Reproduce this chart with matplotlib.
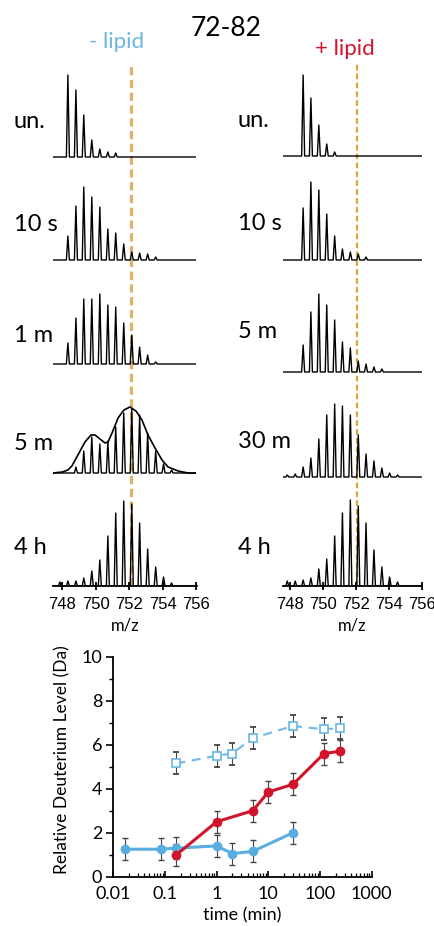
import matplotlib
matplotlib.use('Agg')
import matplotlib.pyplot as plt
from matplotlib import font_manager
from matplotlib.ticker import FixedLocator, NullFormatter
import numpy as np

# ---- data: isotope peaks (m/z grid shared by all spectra) ----
peak_mz = [747.86, 748.34, 748.82, 749.29, 749.77, 750.25, 750.73, 751.20,
           751.68, 752.16, 752.63, 753.11, 753.59, 754.06, 754.54, 755.02]

left_labels = ['un.', '10 s', '1 m', '5 m', '4 h']
left_spectra = [
    [0, 82, 67, 42, 17, 8, 5, 4, 0, 0, 0, 0, 0, 0, 0, 0],
    [0, 24, 54, 73, 63, 53, 31, 27, 16, 8, 7, 6, 3, 0, 0, 0],
    [0, 21, 46, 65, 65, 70, 59, 57, 41, 29, 17, 9, 2, 0, 0, 0],
    [0, 0, 6, 22, 36, 29, 32, 46, 60, 64, 58, 40, 22, 9, 3, 0],
    [4, 5, 5, 8, 15, 26, 50, 73, 85, 82, 63, 37, 19, 9, 3, 0],
]
# bimodal envelope drawn over the 5 m spectrum (-lipid)
env_mz = [747.45, 748.0, 748.34, 748.58, 748.94, 749.36, 749.72, 749.96, 750.26,
          750.56, 750.74, 750.98, 751.34, 751.69, 752.05, 752.41, 752.77, 753.13,
          753.55, 753.97, 754.33, 754.93, 755.53, 756.0]
env_int = [0, 1, 3, 7, 18, 31, 38, 38, 34, 30, 31, 40, 55, 63, 66, 62, 53, 38,
           25, 13, 6, 2, 0, 0]

right_labels = ['un.', '10 s', '5 m', '30 m', '4 h']
right_spectra = [
    [0, 0, 81, 58, 31, 12, 4, 0, 0, 0, 0, 0, 0, 0, 0, 0],
    [0, 0, 52, 78, 70, 46, 24, 11, 8, 6, 3, 0, 0, 0, 0, 0],
    [0, 0, 27, 60, 78, 67, 52, 30, 24, 11, 8, 5, 3, 0, 0, 0],
    [2, 3, 10, 19, 38, 62, 73, 71, 62, 42, 23, 16, 9, 4, 2, 0],
    [5, 5, 6, 8, 17, 27, 50, 73, 86, 80, 63, 36, 19, 9, 4, 0],
]
ref_mz = 752.1

# ---- data: deuterium uptake ----
time_blue = [0.0167, 0.0833, 0.167, 1, 2, 5, 30]
d_blue = [1.25, 1.25, 1.3, 1.4, 1.05, 1.15, 2.0]
time_open = [0.167, 1, 2, 5, 30, 120, 240]
d_open = [5.15, 5.5, 5.6, 6.3, 6.85, 6.7, 6.75]
time_red = [0.167, 1, 5, 10, 30, 120, 240]
d_red = [1.0, 2.5, 3.0, 3.85, 4.2, 5.6, 5.7]
err = 0.5

BLUE = '#5AAEDF'
RED = '#D0142B'

names = {f.name for f in font_manager.fontManager.ttflist}
narrow = 'Liberation Sans Narrow' if 'Liberation Sans Narrow' in names else 'Liberation Sans'
plt.rcParams['font.family'] = ['Lato', 'DejaVu Sans']

W, H = 435, 926
fig = plt.figure(figsize=(W / 100, H / 100), dpi=100)


def fx(px):
    return px / W


def fy(py):
    return 1 - py / H


def stick_trace(mz, inten, lo, hi, w=0.09):
    xs, ys = [lo], [0]
    for m, h in zip(mz, inten):
        if h <= 0:
            continue
        xs += [m - w, m, m + w]
        ys += [0, h, 0]
    xs.append(hi)
    ys.append(0)
    return np.array(xs), np.array(ys)


def spectra_panel(x0, x1, xlim, spectra, offsets, dash_lw, dash_col):
    ax = fig.add_axes([fx(x0), fy(586), fx(x1) - fx(x0), (586 - 62) / H])
    ax.set_xlim(*xlim)
    ax.set_ylim(0, 524)
    for inten, off in zip(spectra, offsets):
        xs, ys = stick_trace(peak_mz, inten, xlim[0], xlim[1])
        ax.plot(xs, ys + off, color='black', lw=1.0)
    ax.axvline(ref_mz, color=dash_col, lw=dash_lw, ls=(0, (2.6, 1.4)), zorder=0)
    for s in ['left', 'right', 'top']:
        ax.spines[s].set_visible(False)
    ax.spines['bottom'].set_linewidth(1.3)
    ax.set_yticks([])
    ax.set_xticks([748, 750, 752, 754, 756])
    ax.tick_params(axis='x', direction='inout', length=6, width=1.3, pad=5)
    for lab in ax.get_xticklabels():
        lab.set_fontfamily(narrow)
        lab.set_fontsize(12)
    ax.set_xlabel('m/z', fontsize=12, labelpad=4)
    return ax


axl = spectra_panel(53, 196.5, (747.45, 756.03), left_spectra,
                    [429, 326, 222, 113, 0], 2.3, '#E2B066')
axl.plot(env_mz, np.array(env_int) + 113, color='black', lw=1.2)

axr = spectra_panel(283, 422, (747.6, 756.02), right_spectra,
                    [430, 326, 214, 109, 0], 1.6, '#D8AA3C')

for lab, py in zip(left_labels, [122, 225, 335, 443, 548]):
    fig.text(fx(14), fy(py), lab, fontsize=17, ha='left', va='center')
for lab, py in zip(right_labels, [121, 223, 332, 441, 548]):
    fig.text(fx(238), fy(py), lab, fontsize=17, ha='left', va='center')

fig.text(fx(226), fy(28), '72-82', fontsize=19, ha='center', va='center')
fig.text(fx(117), fy(42), '- lipid', fontsize=16, ha='center', va='center', color='#6DB6E2')
fig.text(fx(345), fy(49), '+ lipid', fontsize=16, ha='center', va='center', color=RED)

# ---- uptake plot ----
ax = fig.add_axes([fx(113.3), fy(876.7), fx(371.7) - fx(113.3), (876.7 - 656.7) / H])
ax.errorbar(time_open, d_open, yerr=err, color='#72BBE6', ls=(0, (4, 3)), lw=1.6,
            marker='s', ms=6, mfc='white', mec='#72BBE6', mew=1.3,
            ecolor='#444444', elinewidth=0.8, capsize=2)
ax.errorbar(time_blue, d_blue, yerr=err, color=BLUE, lw=2.2, marker='o', ms=6,
            ecolor='#444444', elinewidth=0.8, capsize=2)
ax.errorbar(time_red, d_red, yerr=err, color=RED, lw=2.2, marker='o', ms=6,
            ecolor='#444444', elinewidth=0.8, capsize=2)
ax.set_xscale('log')
ax.set_xlim(0.01, 1000)
ax.set_ylim(0, 10)
ax.set_xticks([0.01, 0.1, 1, 10, 100, 1000])
ax.set_xticklabels(['0.01', '0.1', '1', '10', '100', '1000'])
ax.xaxis.set_minor_formatter(NullFormatter())
ax.set_yticks([0, 2, 4, 6, 8, 10])
ax.yaxis.set_minor_locator(FixedLocator([1, 3, 5, 7, 9]))
for s in ['right', 'top']:
    ax.spines[s].set_visible(False)
for s in ['left', 'bottom']:
    ax.spines[s].set_linewidth(1.3)
ax.tick_params(axis='y', which='major', direction='out', length=5, width=1.2, labelsize=13, pad=3)
ax.tick_params(axis='y', which='minor', direction='out', length=3, width=1.0)
ax.tick_params(axis='x', which='major', direction='in', length=4, width=1.2, labelsize=13, pad=7)
ax.tick_params(axis='x', which='minor', direction='in', length=3, width=0.9)
ax.set_xlabel('time (min)', fontsize=13, labelpad=0)
ax.set_ylabel('Relative Deuterium Level (Da)', fontsize=12.5)
ax.yaxis.set_label_coords(-0.165, 0.53)
ax.xaxis.set_label_coords(0.5, -0.14)

fig.savefig('out.png', dpi=100)
